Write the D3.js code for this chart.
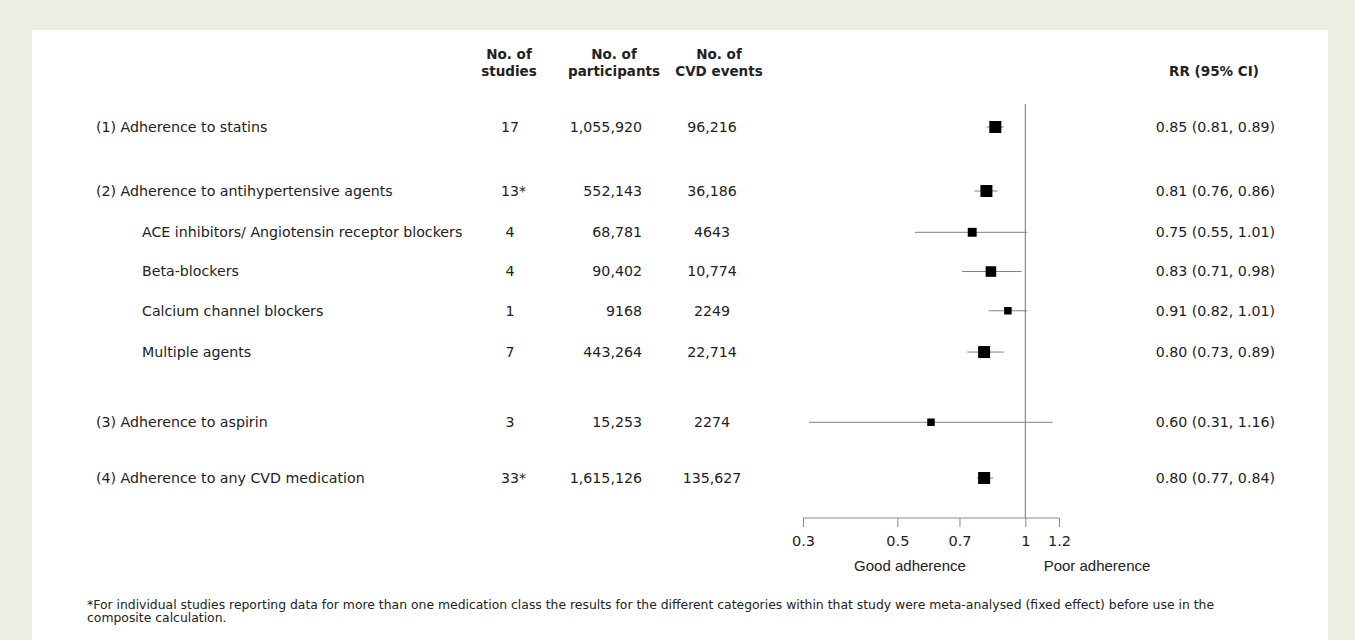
<!DOCTYPE html>
<html>
<head>
<meta charset="utf-8">
<script src="https://cdn.jsdelivr.net/npm/d3@7"></script>
<style>
  html, body { margin: 0; padding: 0; background: #eeede3; }
  svg { display: block; }
  text { font-family: "DejaVu Sans", Verdana, sans-serif; fill: #222; }
</style>
</head>
<body>
<svg id="chart" width="1355" height="640"></svg>
<script>
// ---------- data ----------
const labels = [
  "(1) Adherence to statins",
  "(2) Adherence to antihypertensive agents",
  "ACE inhibitors/ Angiotensin receptor blockers",
  "Beta-blockers",
  "Calcium channel blockers",
  "Multiple agents",
  "(3) Adherence to aspirin",
  "(4) Adherence to any CVD medication"
];
const isSub = [false, false, true, true, true, true, false, false];
const studies = ["17", "13", "4", "4", "1", "7", "3", "33"];
const studiesNote = ["", "*", "", "", "", "", "", "*"];
const participants = ["1,055,920", "552,143", "68,781", "90,402", "9168", "443,264", "15,253", "1,615,126"];
const events = ["96,216", "36,186", "4643", "10,774", "2249", "22,714", "2274", "135,627"];
const eventCounts = [96216, 36186, 4643, 10774, 2249, 22714, 2274, 135627];
const rr = [0.85, 0.81, 0.75, 0.83, 0.91, 0.80, 0.60, 0.80];
const lo = [0.81, 0.76, 0.55, 0.71, 0.82, 0.73, 0.31, 0.77];
const hi = [0.89, 0.86, 1.01, 0.98, 1.01, 0.89, 1.16, 0.84];
const rowSlot = [0, 1.55, 2.55, 3.5, 4.45, 5.45, 7.15, 8.5]; // row order incl. gaps between groups
const ticks = [0.3, 0.5, 0.7, 1, 1.2];
const headers = [["No. of", "studies"], ["No. of", "participants"], ["No. of", "CVD events"]];
const rrHeader = "RR (95% CI)";
const axisLeft = "Good adherence", axisRight = "Poor adherence";
const footnote = [
  "*For individual studies reporting data for more than one medication class the results for the different categories within that study were meta-analysed (fixed effect) before use in the",
  "composite calculation."
];

// ---------- layout ----------
const svg = d3.select("#chart");
svg.append("rect").attr("x", 32).attr("y", 30).attr("width", 1296).attr("height", 610).attr("fill", "#ffffff");

const y = d3.scaleLinear().domain([0, 8.5]).range([127, 478]);
const x = d3.scaleLog().domain([0.3, 1.2]).range([803, 1059]);
const sq = d3.scaleLog().domain([2249, 22714]).range([7.5, 12]).clamp(true);

const colStudies = 510, colPart = 642, colEvents = 712, rrRight = 1275;
const fs = 14.2, hfs = 13.5;

// headers
const hx = [509, 614, 719];
headers.forEach((h, i) => {
  h.forEach((line, j) => {
    svg.append("text").attr("x", hx[i]).attr("y", 59 + j * 17)
      .attr("text-anchor", "middle").attr("font-weight", "bold").attr("font-size", hfs)
      .text(line);
  });
});
svg.append("text").attr("x", 1214).attr("y", 76).attr("text-anchor", "middle")
  .attr("font-weight", "bold").attr("font-size", hfs).text(rrHeader);

// rows
labels.forEach((lab, i) => {
  const yy = y(rowSlot[i]);
  svg.append("text").attr("x", isSub[i] ? 142 : 96).attr("y", yy).attr("dy", "0.35em")
    .attr("font-size", fs).text(lab);
  const st = svg.append("text").attr("x", colStudies).attr("y", yy).attr("dy", "0.35em")
    .attr("text-anchor", "middle").attr("font-size", fs).text(studies[i]);
  if (studiesNote[i]) {
    const w = st.node().getComputedTextLength();
    svg.append("text").attr("x", colStudies + w / 2).attr("y", yy).attr("dy", "0.35em")
      .attr("font-size", fs).text(studiesNote[i]);
  }
  svg.append("text").attr("x", colPart).attr("y", yy).attr("dy", "0.35em")
    .attr("text-anchor", "end").attr("font-size", fs).text(participants[i]);
  svg.append("text").attr("x", colEvents).attr("y", yy).attr("dy", "0.35em")
    .attr("text-anchor", "middle").attr("font-size", fs).text(events[i]);
  svg.append("text").attr("x", rrRight).attr("y", yy).attr("dy", "0.35em")
    .attr("text-anchor", "end").attr("font-size", fs)
    .text(`${rr[i].toFixed(2)} (${lo[i].toFixed(2)}, ${hi[i].toFixed(2)})`);
});

// reference line at 1
const axisY = 518;
svg.append("line").attr("x1", x(1)).attr("x2", x(1)).attr("y1", 104).attr("y2", axisY)
  .attr("stroke", "#8a8a8a").attr("stroke-width", 1.2);

// CIs and squares
labels.forEach((lab, i) => {
  const yy = y(rowSlot[i]);
  svg.append("line").attr("x1", x(lo[i])).attr("x2", x(hi[i])).attr("y1", yy).attr("y2", yy)
    .attr("stroke", "#808080").attr("stroke-width", 1);
  const s = sq(eventCounts[i]);
  svg.append("rect").attr("x", x(rr[i]) - s / 2).attr("y", yy - s / 2)
    .attr("width", s).attr("height", s).attr("fill", "#000");
});

// axis
const axis = d3.axisBottom(x).tickValues(ticks).tickFormat(d3.format("")).tickSize(9).tickSizeOuter(0);
const gAx = svg.append("g").attr("transform", `translate(0,${axisY})`).call(axis);
gAx.select(".domain").attr("stroke", "#8a8a8a").attr("d", `M${x(0.3)},0H${x(1.2)}`);
gAx.selectAll(".tick line").attr("stroke", "#8a8a8a");
gAx.selectAll(".tick text").attr("font-family", "DejaVu Sans, Verdana, sans-serif")
  .attr("font-size", 14.5).attr("fill", "#222").attr("y", 0).attr("dy", "28px");

svg.append("text").attr("x", 910).attr("y", 571).attr("text-anchor", "middle")
  .style("font-family", "'Liberation Sans', Arial, sans-serif").attr("font-size", 15).text(axisLeft);
svg.append("text").attr("x", 1097).attr("y", 571).attr("text-anchor", "middle")
  .style("font-family", "'Liberation Sans', Arial, sans-serif").attr("font-size", 15).text(axisRight);

// footnote: sized so that the first line spans the same width as in the original
const fn = svg.append("g");
const fnLines = footnote.map((t, i) =>
  fn.append("text").attr("x", 87).attr("y", 609 + i * 13).attr("font-size", 10).text(t));
const w0 = fnLines[0].node().getComputedTextLength();
const fnSize = Math.min(12.5, 10 * 1128 / w0);
fnLines.forEach(t => t.attr("font-size", fnSize));
</script>
</body>
</html>
